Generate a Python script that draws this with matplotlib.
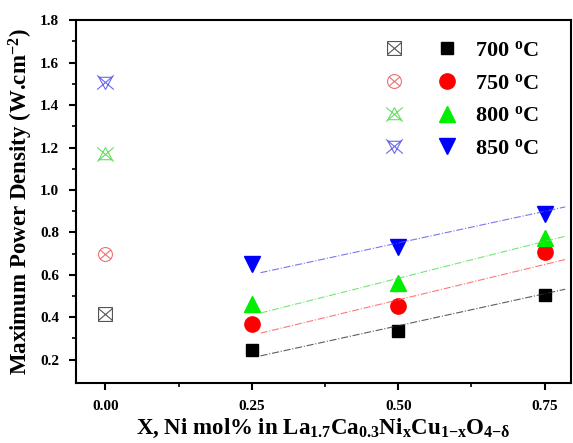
import numpy as np
import matplotlib
matplotlib.use('Agg')
import matplotlib.pyplot as plt
from matplotlib.path import Path
from matplotlib.legend_handler import HandlerTuple

plt.rcParams['font.family'] = 'Liberation Serif'
plt.rcParams['font.weight'] = 'bold'
plt.rcParams['mathtext.fontset'] = 'custom'
plt.rcParams['mathtext.rm'] = 'Liberation Serif:bold'
plt.rcParams['mathtext.it'] = 'Liberation Serif:bold'
plt.rcParams['mathtext.bf'] = 'Liberation Serif:bold'

# data
temps = ['700', '750', '800', '850']
x_ref = 0.0
ref_vals = [0.415, 0.70, 1.17, 1.51]           # x = 0 (open symbols)
x_ni = [0.25, 0.50, 0.75]
pd_700 = [0.247, 0.335, 0.505]
pd_750 = [0.368, 0.452, 0.708]
pd_800 = [0.462, 0.560, 0.773]
pd_850 = [0.650, 0.730, 0.885]
# dash-dot guide lines (end values)
fit_x = [0.265, 0.785]
fit_700 = [0.218, 0.532]
fit_750 = [0.325, 0.672]
fit_800 = [0.420, 0.782]
fit_850 = [0.610, 0.920]

series = [pd_700, pd_750, pd_800, pd_850]
fits = [fit_700, fit_750, fit_800, fit_850]
colors = ['black', 'red', '#00ee00', 'blue']
open_colors = ['#555555', '#f07070', '#66e066', '#6a6af0']
fit_colors = ['#333333', '#ff5555', '#55dd55', '#5555ee']
markers = ['s', 'o', '^', 'v']
msizes = [9, 11, 11, 11]

# crossed open markers
def crossed(shape):
    if shape == 's':
        outline = Path([(-1, -1), (1, -1), (1, 1), (-1, 1), (-1, -1)],
                       [1, 2, 2, 2, 79])
        d = 1.0
    elif shape == 'o':
        outline = Path.unit_circle()
        d = 0.707
    elif shape == '^':
        outline = Path([(0, 1), (-0.95, -0.75), (0.95, -0.75), (0, 1)],
                       [1, 2, 2, 79])
        d = 1.2
    else:
        outline = Path([(0, -1), (-0.95, 0.75), (0.95, 0.75), (0, -1)],
                       [1, 2, 2, 79])
        d = 1.2
    x = Path([(-d, -d * 0.85), (d, d * 0.85), (-d, d * 0.85), (d, -d * 0.85)],
             [1, 2, 1, 2])
    return Path.make_compound_path(outline, x)

fig = plt.figure(figsize=(5.73, 4.43), dpi=100)
ax = fig.add_axes([0.1326, 0.1354, 0.864, 0.819])

handles = []
for i in range(4):
    ho, = ax.plot([x_ref], [ref_vals[i]], linestyle='none', marker=crossed(markers[i]),
                  markersize=12 if i > 1 else 10, markerfacecolor='none',
                  markeredgecolor=open_colors[i], markeredgewidth=0.8)
    hf, = ax.plot(x_ni, series[i], linestyle='none', marker=markers[i],
                  markersize=msizes[i], color=colors[i])
    ax.plot(fit_x, fits[i], linestyle='-.', color=fit_colors[i], linewidth=0.8, alpha=0.8)
    handles.append((ho, hf))

labels = [t + r' $^{\mathrm{o}}$C' for t in temps]
leg = ax.legend(handles, labels, handler_map={tuple: HandlerTuple(ndivide=None, pad=1.5)},
                loc='upper right', bbox_to_anchor=(0.975, 1.0), frameon=False,
                handlelength=3.3, handletextpad=0.8, labelspacing=0.55,
                prop={'family': 'Liberation Serif', 'weight': 'bold', 'size': 16})

ax.set_xlim(-0.05, 0.795)
ax.set_ylim(0.09, 1.8)
ax.set_xticks([0.0, 0.25, 0.5, 0.75])
ax.set_xticklabels(['0.00', '0.25', '0.50', '0.75'])
ax.set_xticks([0.125, 0.375, 0.625], minor=True)
ax.set_yticks(np.arange(0.2, 1.81, 0.2))
ax.set_yticklabels(['%.1f' % v for v in np.arange(0.2, 1.81, 0.2)])
ax.set_yticks(np.arange(0.3, 1.8, 0.2), minor=True)
ax.tick_params(which='major', direction='out', length=5, width=1.5, labelsize=11, pad=7)
ax.tick_params(which='minor', direction='out', length=3, width=1.2)
for lab in ax.get_xticklabels() + ax.get_yticklabels():
    lab.set_fontweight('bold')
for s in ax.spines.values():
    s.set_linewidth(1.5)

ax.set_xlabel(r'X, Ni mol% in La$_{1.7}$Ca$_{0.3}$Ni$_{x}$Cu$_{1\mathrm{-}x}$O$_{4\mathrm{-}\delta}$',
              fontsize=16.5, fontweight='bold', labelpad=3)
ax.set_ylabel(r'Maximum Power Density (W.cm$^{-2}$)', fontsize=16.5, fontweight='bold', labelpad=4)

fig.savefig('out.png', dpi=100)
